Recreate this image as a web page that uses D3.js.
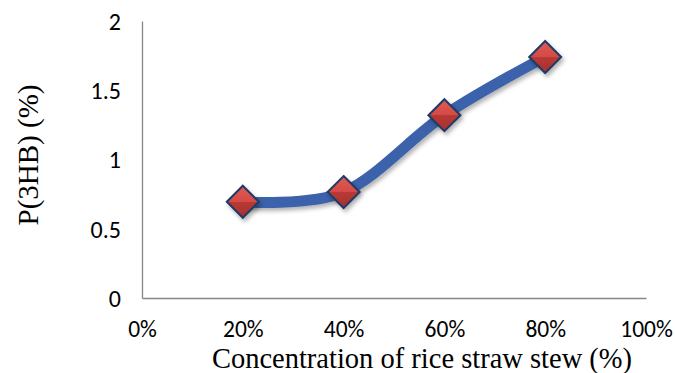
<!DOCTYPE html>
<html>
<head>
<meta charset="utf-8">
<script src="https://cdn.jsdelivr.net/npm/d3@7"></script>
<style>
  html, body { margin: 0; padding: 0; background: #fff; }
  svg { display: block; }
</style>
</head>
<body>
<svg id="chart" width="675" height="373"></svg>
<script>
// Data
const concentrations = [0.2, 0.4, 0.6, 0.8];
const p3hbValues = [0.695, 0.765, 1.32, 1.74];
const xTicks = [0, 0.2, 0.4, 0.6, 0.8, 1.0];
const yTicks = [0, 0.5, 1, 1.5, 2];
const xTitle = "Concentration of rice straw stew (%)";
const yTitle = "P(3HB) (%)";

const svg = d3.select("#chart");
const margin = { left: 142, right: 29, top: 21, bottom: 75 };
const W = 675, H = 373;

const x = d3.scaleLinear().domain([0, 1]).range([margin.left, W - margin.right]);
const y = d3.scaleLinear().domain([0, 2]).range([H - margin.bottom, margin.top]);

const defs = svg.append("defs");
const f = defs.append("filter").attr("id", "shadow").attr("x", "-30%").attr("y", "-30%").attr("width", "160%").attr("height", "160%");
f.append("feDropShadow").attr("dx", 2).attr("dy", 3).attr("stdDeviation", 2).attr("flood-color", "#000").attr("flood-opacity", 0.3);

const g1 = defs.append("linearGradient").attr("id", "mk").attr("x1", 0).attr("y1", 0).attr("x2", 0).attr("y2", 1);
g1.append("stop").attr("offset", "0%").attr("stop-color", "#e05a55");
g1.append("stop").attr("offset", "50%").attr("stop-color", "#d44a45");
g1.append("stop").attr("offset", "50%").attr("stop-color", "#b83a36");
g1.append("stop").attr("offset", "100%").attr("stop-color", "#a8302d");

const tickFont = "Carlito, Calibri, Lato, 'Open Sans', sans-serif";
const titleFont = "'Liberation Serif', 'Times New Roman', serif";

// Axes
const xAxis = svg.append("g").attr("transform", `translate(0,${y(0)})`)
  .call(d3.axisBottom(x).tickValues(xTicks).tickSize(0).tickFormat(d3.format(".0%")));
xAxis.select(".domain").attr("stroke", "#868686").attr("stroke-width", 1.3);
xAxis.selectAll("text").attr("dy", null).attr("y", 39)
  .attr("font-family", tickFont).attr("font-size", 23.5).attr("fill", "#000");

const yAxis = svg.append("g").attr("transform", `translate(${x(0)},0)`)
  .call(d3.axisLeft(y).tickValues(yTicks).tickSize(0).tickFormat(d => d3.format("")(d)));
yAxis.select(".domain").attr("stroke", "#868686").attr("stroke-width", 1.3);
yAxis.selectAll("text").attr("x", -21).attr("dy", "0.35em")
  .attr("font-family", tickFont).attr("font-size", 24).attr("fill", "#000");

// Titles
svg.append("text").attr("x", 422).attr("y", 368).attr("text-anchor", "middle")
  .attr("font-family", titleFont).attr("font-size", 28.5).attr("fill", "#000")
  .text(xTitle);
svg.append("text").attr("transform", `translate(38,${155}) rotate(-90)`).attr("text-anchor", "middle")
  .attr("font-family", titleFont).attr("font-size", 29).attr("fill", "#000")
  .text(yTitle);

// Line
const pts = concentrations.map((c, i) => [c, p3hbValues[i]]);
const line = d3.line().x(d => x(d[0])).y(d => y(d[1])).curve(d3.curveCardinal.tension(0));
svg.append("path").datum(pts).attr("d", line).attr("fill", "none")
  .attr("stroke", "#3a62aa").attr("stroke-width", 11).attr("stroke-linecap", "butt")
  .attr("filter", "url(#shadow)");

// Markers
const s = 16;
svg.append("g").selectAll("path").data(pts).join("path")
  .attr("transform", d => `translate(${x(d[0])},${y(d[1])})`)
  .attr("d", `M0,${-s}L${s},0L0,${s}L${-s},0Z`)
  .attr("fill", "url(#mk)").attr("stroke", "#1f3a66").attr("stroke-width", 2)
  .attr("filter", "url(#shadow)");
</script>
</body>
</html>
